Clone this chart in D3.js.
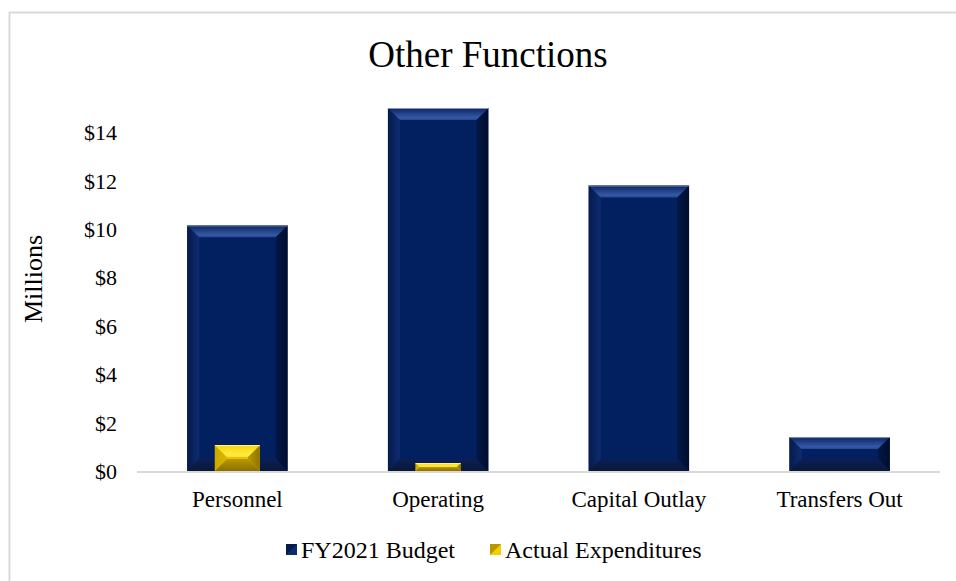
<!DOCTYPE html>
<html>
<head>
<meta charset="utf-8">
<script src="https://cdn.jsdelivr.net/npm/d3@7"></script>
<style>
  body { margin: 0; background: #fff; }
  svg text { font-family: "Liberation Serif", "Times New Roman", serif; fill: #000; }
</style>
</head>
<body>
<svg id="chart" width="956" height="581"></svg>
<script>
const categories = ["Personnel", "Operating", "Capital Outlay", "Transfers Out"];
const budget = [10.15, 15.0, 11.8, 1.4];
const actual = [1.07, 0.33, 0, 0];
const yTicks = [0, 2, 4, 6, 8, 10, 12, 14];

const svg = d3.select("#chart");
const defs = svg.append("defs");

// chart frame (only top/left edges visible)
svg.append("path")
  .attr("d", "M9.5,581 V12.5 H956")
  .attr("fill", "none")
  .attr("stroke", "#d9d9d9")
  .attr("stroke-width", 2);

const x = d3.scaleBand()
  .domain(categories)
  .range([137, 940])
  .paddingInner(0.5)
  .paddingOuter(0.25);

const y = d3.scaleLinear().domain([0, 15]).range([471, 108]);

// title
svg.append("text")
  .attr("x", 488)
  .attr("y", 67)
  .attr("text-anchor", "middle")
  .style("font-size", "37px")
  .text("Other Functions");

// y axis label
svg.append("text")
  .attr("transform", "translate(42,279) rotate(-90)")
  .attr("text-anchor", "middle")
  .style("font-size", "26px")
  .text("Millions");

// y tick labels
svg.append("g")
  .selectAll("text")
  .data(yTicks)
  .join("text")
  .attr("x", 117)
  .attr("y", (d) => y(d) + 8)
  .attr("text-anchor", "end")
  .style("font-size", "22px")
  .text((d) => `$${d}`);

// gradient helper
function vGrad(id, stops) {
  const g = defs.append("linearGradient")
    .attr("id", id)
    .attr("x1", 0).attr("y1", 0).attr("x2", 0).attr("y2", 1);
  stops.forEach(([o, c]) => g.append("stop").attr("offset", o).attr("stop-color", c));
}
function hGrad(id, stops) {
  const g = defs.append("linearGradient")
    .attr("id", id)
    .attr("x1", 0).attr("y1", 0).attr("x2", 1).attr("y2", 0);
  stops.forEach(([o, c]) => g.append("stop").attr("offset", o).attr("stop-color", c));
}

const themes = {
  navy: { face: "#022060", top: "navyTop", left: "navyLeft", right: "navyRight", bottom: "navyBottom", edge: "#8593b5" },
  gold: { face: "#e8c200", top: "goldTop", left: "goldLeft", right: "goldRight", bottom: "goldBottom", edge: "#fff0a0" }
};
vGrad("navyTop", [["0%", "#0b2464"], ["80%", "#3559a4"], ["100%", "#27468f"]]);
hGrad("navyLeft", [["0%", "#061a4c"], ["100%", "#0d2c70"]]);
hGrad("navyRight", [["0%", "#031848"], ["100%", "#000d2c"]]);
vGrad("navyBottom", [["0%", "#0a1f55"], ["100%", "#0a1838"]]);
vGrad("goldTop", [["0%", "#f6d800"], ["80%", "#ffe94a"], ["100%", "#ffe020"]]);
hGrad("goldLeft", [["0%", "#c9a800"], ["100%", "#dcb800"]]);
hGrad("goldRight", [["0%", "#b89800"], ["100%", "#8f7400"]]);
vGrad("goldBottom", [["0%", "#b99800"], ["100%", "#8a7000"]]);

function bevelBar(g, x0, y0, w, h, t) {
  if (h <= 0) return;
  const b = Math.min(12, h / 2, w / 2);
  const x1 = x0 + w, y1 = y0 + h;
  g.append("rect").attr("x", x0).attr("y", y0).attr("width", w).attr("height", h).attr("fill", t.face);
  const poly = (pts, fill) => g.append("polygon").attr("points", pts.map((p) => p.join(",")).join(" ")).attr("fill", `url(#${fill})`);
  poly([[x0, y0], [x0 + b, y0 + b], [x0 + b, y1 - b], [x0, y1]], t.left);
  poly([[x1, y0], [x1 - b, y0 + b], [x1 - b, y1 - b], [x1, y1]], t.right);
  poly([[x0, y1], [x0 + b, y1 - b], [x1 - b, y1 - b], [x1, y1]], t.bottom);
  poly([[x0, y0], [x1, y0], [x1 - b, y0 + b], [x0 + b, y0 + b]], t.top);
  g.append("line").attr("x1", x0).attr("x2", x1).attr("y1", y0 + 0.5).attr("y2", y0 + 0.5)
    .attr("stroke", t.edge).attr("stroke-width", 1);
}

const bars = svg.append("g");
categories.forEach((c, i) => {
  const bx = x(c);
  const bw = x.bandwidth();
  bevelBar(bars, bx, y(budget[i]), bw, y(0) - y(budget[i]), themes.navy);
  const gw = 45;
  const gx = bx + bw / 2 - gw / 2;
  bevelBar(bars, gx, y(actual[i]), gw, y(0) - y(actual[i]), themes.gold);
});

// baseline
svg.append("line")
  .attr("x1", 137).attr("x2", 940)
  .attr("y1", y(0) + 1).attr("y2", y(0) + 1)
  .attr("stroke", "#d9d9d9")
  .attr("stroke-width", 2);

// category labels
svg.append("g")
  .selectAll("text")
  .data(categories)
  .join("text")
  .attr("x", (d) => x(d) + x.bandwidth() / 2)
  .attr("y", 507)
  .attr("text-anchor", "middle")
  .style("font-size", "23px")
  .text((d) => d);

// legend
const legendItems = [
  { label: "FY2021 Budget", a: "#061a4c", b: "#0d2c70", x: 286 },
  { label: "Actual Expenditures", a: "#b89800", b: "#f2cf00", x: 490 }
];
const lg = svg.append("g");
legendItems.forEach((d) => {
  const s = 11, ly = 544;
  lg.append("rect").attr("x", d.x).attr("y", ly).attr("width", s).attr("height", s).attr("fill", d.b);
  lg.append("polygon")
    .attr("points", `${d.x},${ly} ${d.x + s},${ly} ${d.x},${ly + s}`)
    .attr("fill", d.a);
  lg.append("text")
    .attr("x", d.x + 15)
    .attr("y", ly + 14)
    .style("font-size", "24px")
    .text(d.label);
});
</script>
</body>
</html>
